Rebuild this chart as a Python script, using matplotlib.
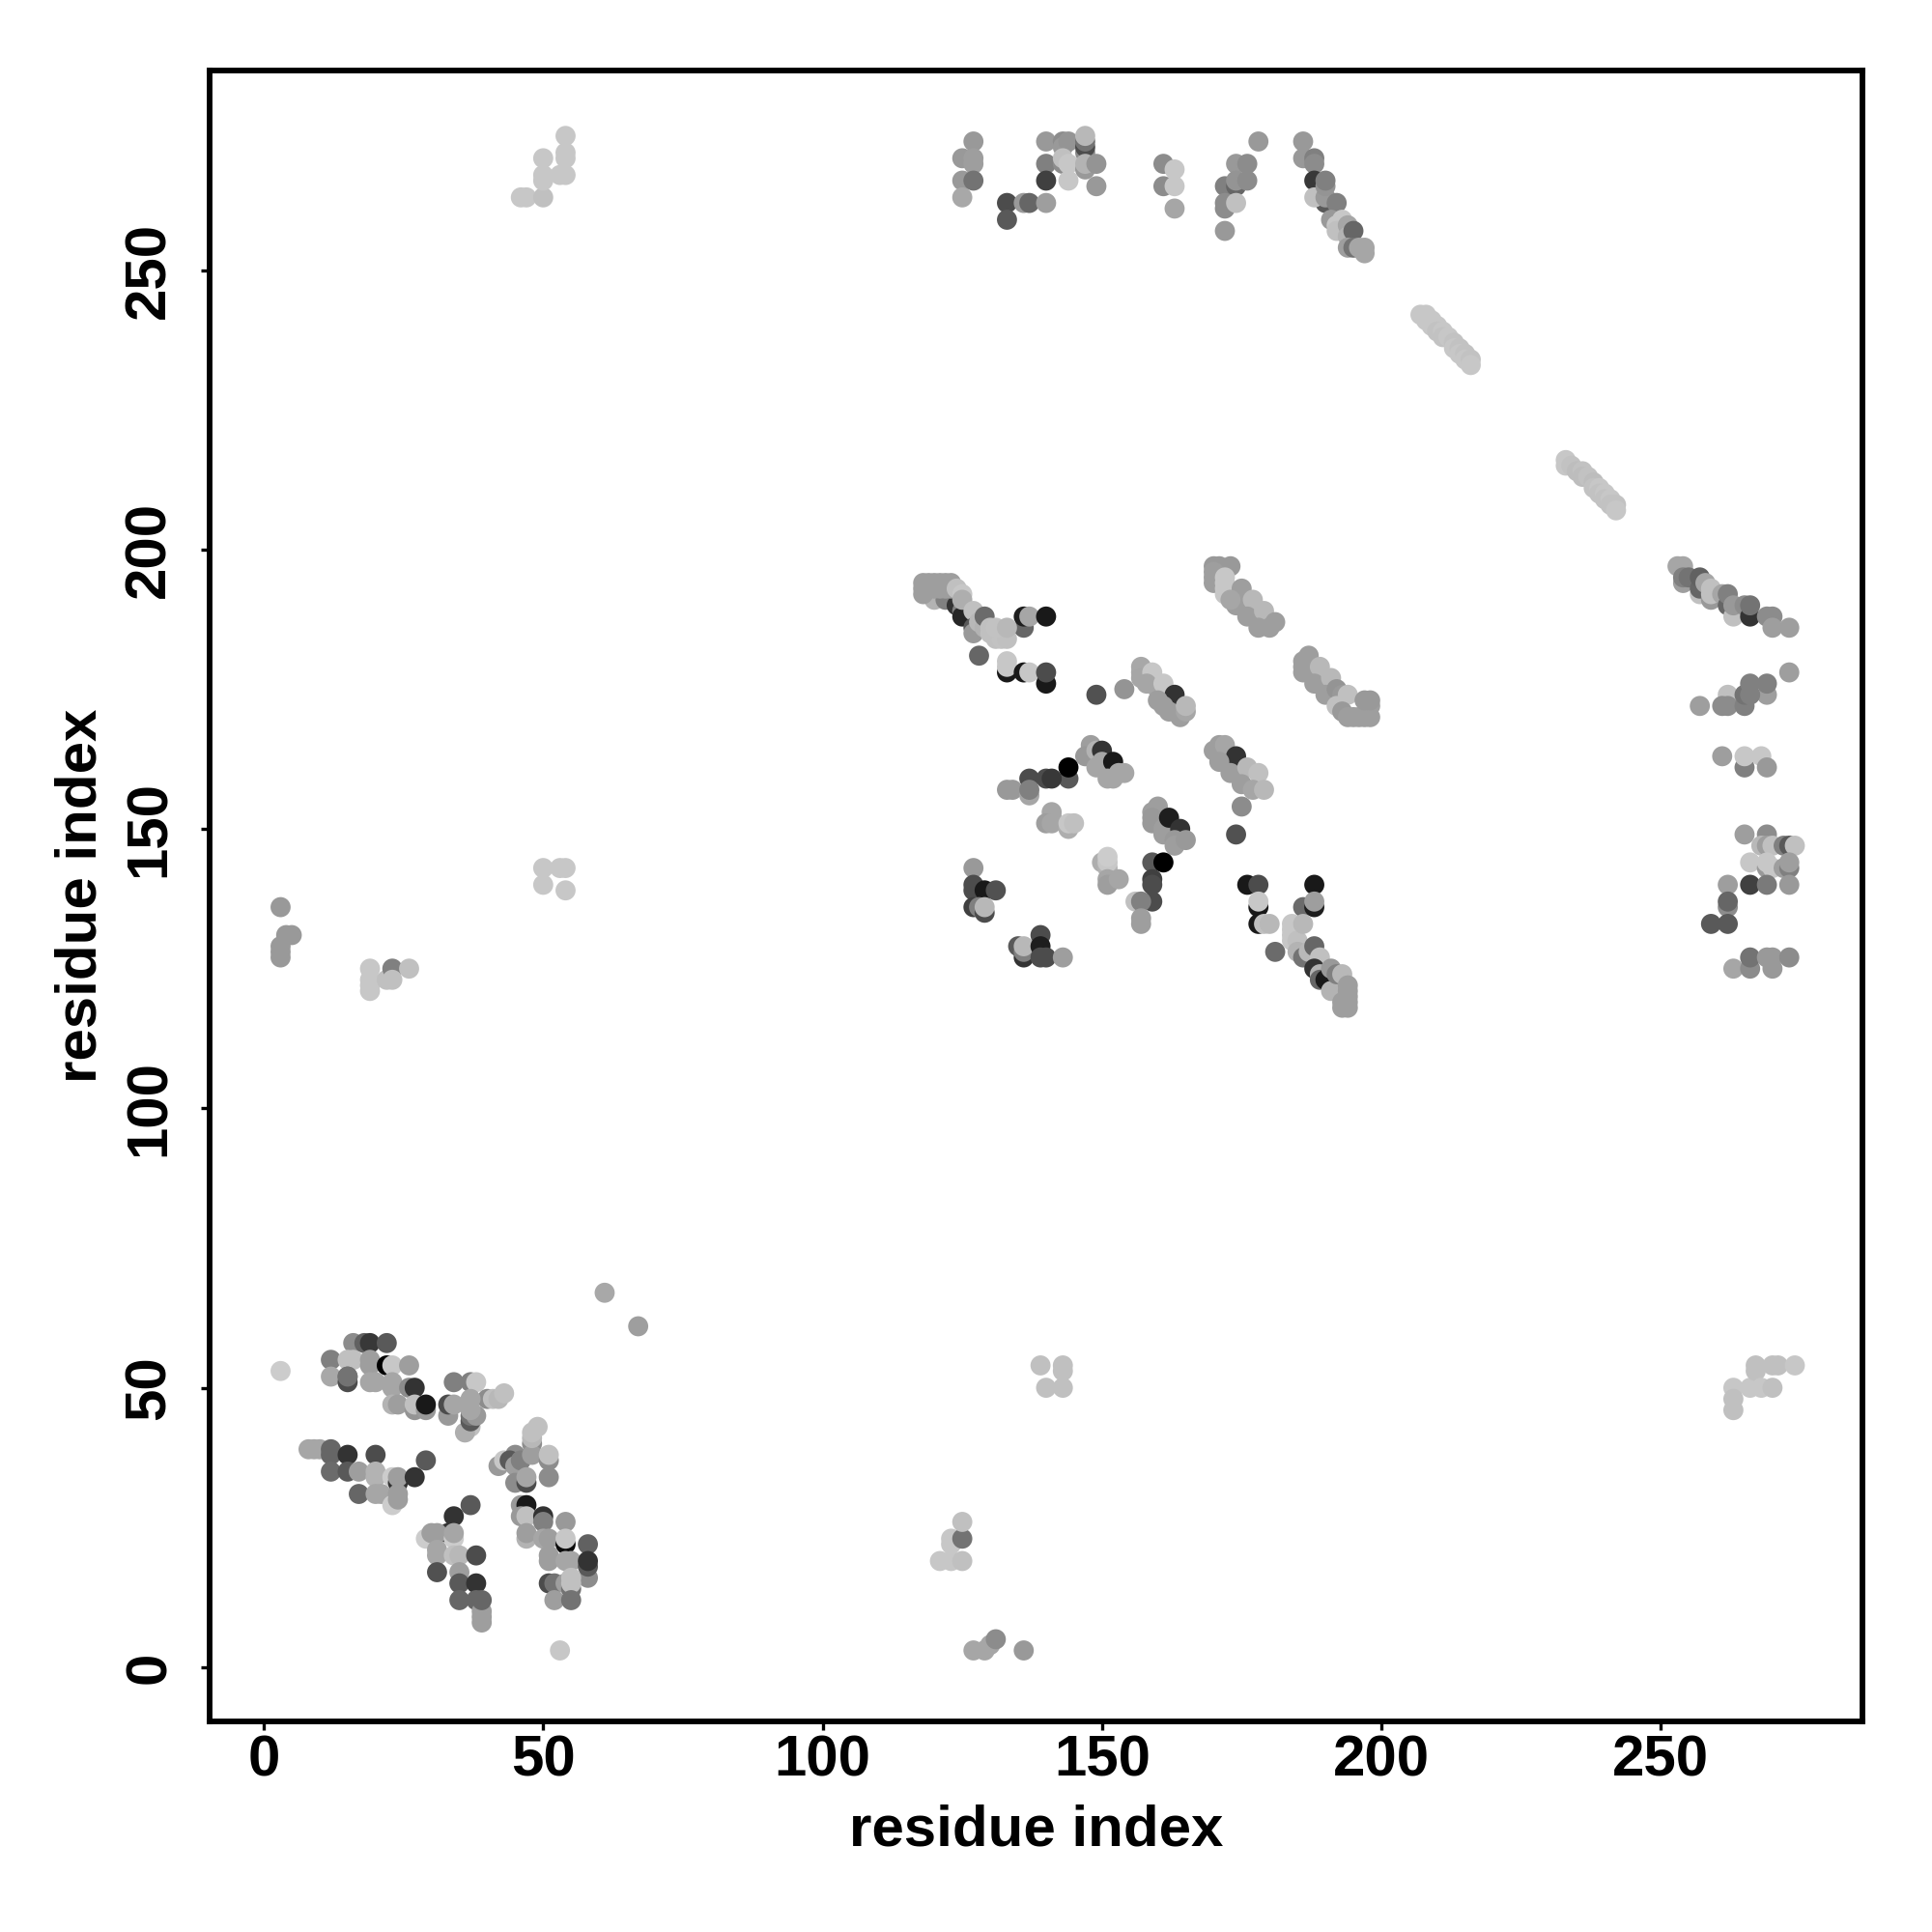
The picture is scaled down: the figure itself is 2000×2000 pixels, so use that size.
import numpy as np
import matplotlib
matplotlib.use("Agg")
import matplotlib.pyplot as plt

plt.rcParams['font.family'] = ['Liberation Sans', 'DejaVu Sans']
plt.rcParams['font.weight'] = 'bold'

# contatti (residuo i, residuo j, grigio), blocco per blocco
bottom_left = [
    (61,67,.66),(67,61,.62),(3,53,.8),(53,3,.78),
    (16,58,.55),(18,58,.38),(19,58,.22),(22,58,.35),(12,55,.5),(15,55,.75),(16,55,.75),
    (19,55,.62),(19,54,.62),(22,54,.0),(23,54,.78),(26,54,.62),(12,52,.66),(15,52,.45),
    (15,51,.3),(15,52,.45),(19,51,.65),(20,51,.65),(23,51,.65),(23,50,.65),(26,50,.55),(27,50,.2),
    (23,47,.7),(24,47,.62),(27,46,.58),(27,47,.75),(29,46,.6),(29,47,.1),
    (34,51,.5),(37,51,.5),(38,51,.78),(33,45,.6),(33,47,.3),(34,47,.65),(40,48,.55),
    (41,48,.75),(42,48,.72),(43,49,.75),(37,43,.75),(36,42,.68),(37,44,.35),(37,45,.45),
    (38,45,.6),(37,46,.65),(37,48,.65),
    (8,39,.65),(9,39,.65),(10,39,.65),(12,39,.4),(12,38,.4),(15,38,.2),(20,38,.3),(29,37,.35),
    (12,35,.42),(15,35,.35),(17,35,.62),(20,35,.7),(20,34,.7),(23,34,.8),(24,33,.2),(24,34,.62),
    (27,34,.2),(17,31,.4),(20,31,.65),(21,31,.65),(23,29,.8),(24,31,.62),(24,30,.62),
    (45,38,.55),(42,36,.6),(43,37,.78),(44,37,.35),(45,36,.62),(46,37,.5),(48,40,.55),(48,38,.62),
    (48,41,.72),(48,42,.75),(49,43,.75),(51,37,.55),(51,38,.75),(51,34,.55),(45,33,.55),
    (47,33,.3),(47,34,.65),
    (37,29,.35),(34,27,.2),(33,24,.2),(29,23,.8),(30,24,.62),(31,24,.62),(34,23,.8),(34,24,.65),
    (31,21,.65),(31,20,.65),(34,20,.75),(35,20,.72),(38,20,.3),(31,17,.32),(35,17,.62),
    (35,15,.35),(38,15,.2),(35,12,.4),(38,12,.4),(39,10,.62),(39,9,.62),(39,8,.62),(39,12,.4),
    (46,29,.6),(47,29,.1),(46,27,.6),(47,27,.75),(50,27,.2),(50,26,.5),(54,26,.6),(47,23,.7),
    (47,24,.62),(50,23,.65),(51,23,.62),(54,22,.05),(54,23,.78),(58,22,.38),(51,20,.62),
    (51,19,.62),(54,19,.65),(55,19,.65),(58,16,.55),(58,18,.35),(58,19,.2),(51,15,.3),(52,15,.45),
    (54,15,.62),(55,14,.45),(55,15,.75),(55,16,.75),(52,12,.62),(55,12,.45),
]

bottom_middle = [
    (121,19,.78),(123,19,.78),(125,19,.75),(123,22,.78),(123,23,.78),(125,23,.45),(125,26,.75),
    (127,3,.65),(129,3,.65),(130,4,.65),(131,5,.55),(136,3,.6),
    (139,54,.75),(140,50,.75),(143,54,.75),(143,53,.75),(143,50,.75),
]

bottom_right = [
    (263,50,.78),(263,48,.75),(263,46,.75),(266,50,.78),(267,54,.75),(267,53,.75),(268,50,.78),
    (270,50,.75),(270,54,.75),(271,54,.75),(274,54,.78),
]

left_middle = [
    (3,136,.6),(3,127,.6),(3,128,.6),(3,129,.6),(4,131,.6),(5,131,.6),
    (19,125,.78),(19,123,.78),(19,122,.78),(19,121,.78),(22,123,.75),(23,125,.5),(23,123,.75),(26,125,.75),
    (50,143,.78),(50,140,.78),(53,143,.78),(54,143,.78),(54,139,.78),
]

top_left = [
    (46,263,.78),(47,263,.78),(50,263,.75),(50,266,.78),(50,267,.78),(50,270,.78),(53,267,.78),
    (54,267,.78),(54,270,.78),(54,271,.78),(54,274,.78),
]

top_band = [
    (127,273,.6),(125,270,.6),(127,270,.62),(127,269,.62),(125,266,.6),(127,266,.45),(125,263,.66),
    (133,262,.3),(133,259,.35),(136,262,.6),(137,262,.4),(140,262,.62),
    (140,273,.6),(140,269,.5),(140,266,.25),(143,273,.55),(143,272,.6),(144,273,.58),(143,269,.55),
    (143,270,.75),(144,269,.78),(144,266,.78),
    (147,271,.55),(147,272,.3),(147,273,.45),(147,274,.72),(147,268,.6),(147,269,.7),(149,269,.58),(149,265,.6),
    (161,269,.55),(163,268,.78),(161,265,.55),(163,265,.78),(163,261,.65),
    (178,273,.6),(174,269,.6),(176,269,.55),(172,265,.5),(174,265,.4),(174,266,.58),(176,266,.55),
    (172,262,.55),(172,261,.55),(174,262,.75),(172,257,.6),
    (186,273,.6),(186,270,.6),(188,270,.5),(188,269,.55),(188,266,.22),(190,262,.35),(188,263,.75),
    (190,263,.6),(190,265,.58),(190,266,.5),(192,262,.5),(191,259,.6),(193,259,.78),(192,258,.78),
    (192,257,.75),(194,258,.65),(194,256,.7),(195,257,.4),(194,254,.62),(195,254,.45),(196,254,.65),
    (197,254,.65),(197,253,.65),
]

diagonal_1 = [
    (207,242,.78),(208,242,.78),(208,241,.78),(209,241,.78),(209,240,.78),(210,240,.78),(210,239,.76),
    (211,239,.78),(211,238,.76),(212,238,.78),(213,237,.76),(213,236,.78),(214,236,.76),(214,235,.78),
    (215,235,.76),(215,234,.78),(216,234,.76),(216,233,.78),
]

diagonal_2 = [
    (233,216,.78),(233,215,.78),(234,215,.76),(235,214,.74),(236,214,.76),(236,213,.74),(237,213,.76),
    (238,212,.74),(238,211,.76),(239,211,.78),(239,210,.76),(240,210,.78),(240,209,.76),(241,209,.78),
    (241,208,.76),(242,208,.76),(242,207,.78),
]

centre_a = [
    (120,191,.7),(122,191,.5),(124,190,.2),(125,190,.2),(125,189,.5),(125,188,.15),
    (118,194,.62),(119,194,.62),(120,194,.62),(121,194,.62),(122,194,.62),(123,194,.62),
    (118,193,.62),(119,193,.62),(120,193,.62),(121,193,.62),(122,193,.62),(123,193,.62),(118,192,.62),
    (124,193,.75),(125,192,.78),
    (125,191,.68),(127,189,.75),(127,186,.35),(127,185,.6),(128,187,.72),(129,186,.7),(129,188,.42),
    (128,181,.4),(136,186,.4),(136,188,.12),(137,188,.65),(140,188,.1),
    (130,185,.75),(131,184,.75),(132,184,.76),(133,184,.75),(130,186,.75),(131,186,.76),(133,186,.72),
    (133,178,.1),(133,179,.78),(133,180,.78),(136,178,.1),(137,178,.78),(140,176,.1),(140,178,.3),
    (149,174,.32),(154,175,.58),
    (157,179,.66),(157,178,.66),(157,177,.65),(159,178,.78),(158,176,.65),(160,175,.65),(161,176,.78),
    (163,174,.2),(160,173,.62),(161,172,.62),(162,171,.62),(164,170,.62),(165,171,.65),(165,172,.72),
    (148,165,.62),(147,163,.6),(149,164,.7),(149,161,.65),(150,164,.2),(150,162,.65),(152,162,.1),
    (151,159,.65),(152,159,.65),(153,160,.65),(154,160,.65),(144,159,.35),(144,161,.0),
    (137,159,.3),(140,159,.3),(141,159,.22),(133,157,.6),(134,157,.6),(137,156,.65),(137,157,.5),
    (141,153,.65),(141,152,.65),(140,151,.62),(141,151,.65),(144,150,.68),(144,151,.78),(145,151,.75),
    (160,154,.62),(159,153,.62),(159,152,.6),(159,151,.6),(161,150,.62),(161,149,.62),(162,152,.12),
    (164,150,.2),(163,148,.6),(163,147,.62),(165,148,.6),
]

centre_b = [
    (127,143,.6),(127,140,.3),(127,139,.3),(129,139,.1),(131,139,.32),(127,136,.25),(128,136,.5),
    (129,135,.3),(129,136,.72),
    (135,129,.35),(136,127,.2),(136,128,.5),(136,129,.72),(139,131,.3),(139,129,.12),(139,127,.3),
    (140,127,.3),(143,127,.62),
    (150,144,.68),(151,143,.7),(151,144,.78),(151,145,.8),(151,141,.65),(151,140,.62),(153,141,.65),
    (159,144,.35),(161,144,.0),(159,141,.25),(159,140,.3),(159,137,.3),(156,137,.75),(157,137,.5),
    (157,134,.62),(157,133,.62),(174,149,.32),(175,154,.55),
]

centre_c = [
    (170,197,.6),(171,197,.6),(173,197,.6),(170,196,.62),(170,195,.62),(170,194,.62),(172,195,.78),
    (172,194,.78),(172,193,.78),(172,192,.78),(175,193,.62),(174,190,.62),(173,191,.65),(177,191,.72),
    (176,188,.62),(179,189,.72),(178,186,.62),(180,186,.62),(181,187,.62),
    (187,181,.62),(186,180,.62),(186,179,.62),(186,178,.62),(189,179,.72),(188,176,.62),(191,177,.72),
    (190,174,.62),(192,175,.58),(193,174,.6),(194,174,.75),(192,172,.75),(193,171,.6),(194,170,.62),
    (195,170,.62),(196,170,.62),(197,170,.62),(198,170,.62),(198,172,.62),(197,173,.6),(198,173,.6),
    (170,164,.62),(171,165,.62),(172,165,.65),(174,163,.2),(171,162,.62),(173,160,.62),(176,161,.72),
    (175,158,.62),(178,160,.75),(177,157,.65),(179,157,.72),
    (176,140,.1),(178,140,.3),(178,136,.1),(178,137,.78),(178,133,.1),(179,133,.75),(180,133,.72),(181,128,.42),
    (188,140,.1),(186,136,.42),(188,136,.12),(188,137,.62),
    (184,133,.78),(184,132,.78),(184,131,.78),(184,130,.78),(185,130,.75),(185,128,.7),(186,133,.72),
    (186,127,.45),(187,128,.72),(188,129,.4),(189,127,.75),(188,125,.2),(189,124,.7),(189,123,.4),
    (190,123,.1),(191,125,.6),(191,121,.7),(192,124,.5),(193,124,.72),(193,119,.62),(193,118,.62),
    (194,122,.62),(194,121,.62),(194,120,.62),(194,119,.62),(194,118,.62),
]

right_column = [
    (253,197,.65),(254,197,.65),(254,194,.62),(254,195,.5),(255,195,.45),(257,192,.75),(257,193,.4),
    (257,195,.38),(258,194,.65),(259,191,.6),(259,192,.75),(259,193,.75),(261,192,.65),(262,190,.4),
    (262,192,.5),(263,188,.75),(263,190,.6),(265,190,.55),(266,188,.2),(266,190,.45),(269,188,.55),
    (270,188,.55),(270,186,.62),(273,186,.62),
    (273,178,.62),(269,174,.62),(269,176,.5),(262,174,.75),(257,172,.62),(261,172,.55),(262,172,.55),
    (265,172,.5),(265,174,.45),(266,174,.5),(266,176,.5),
    (261,163,.62),(265,161,.5),(265,163,.78),(268,163,.78),(269,161,.6),
    (265,149,.62),(269,149,.55),(268,147,.72),(269,147,.62),(270,147,.75),(272,147,.5),(273,147,.35),(274,147,.75),
    (266,144,.78),(269,143,.6),(269,144,.78),(270,143,.78),(272,143,.62),(273,143,.5),(273,144,.62),
    (262,140,.62),(266,140,.25),(269,140,.48),(273,140,.6),
    (262,136,.55),(262,137,.4),(259,133,.35),(262,133,.35),
    (263,125,.65),(266,125,.55),(266,127,.45),(269,127,.6),(270,125,.6),(270,127,.6),(273,127,.55),
]

ticks = [0, 50, 100, 150, 200, 250]

contacts = np.array(bottom_left + bottom_middle + bottom_right + left_middle + top_left + top_band
                    + diagonal_1 + diagonal_2 + centre_a + centre_b + centre_c + right_column)

fig = plt.figure(figsize=(10, 10), dpi=200)
ax = fig.add_axes([217 / 2000, 1 - 1782 / 2000, (1928 - 217) / 2000, (1782 - 73) / 2000])

ax.scatter(contacts[:, 0], contacts[:, 1], c=contacts[:, 2], cmap='gray', vmin=0, vmax=1,
           s=56, linewidths=0, zorder=2)

ax.set_xlim(-9.7, 286.1)
ax.set_ylim(-9.7, 285.7)
ax.set_xticks(ticks)
ax.set_yticks(ticks)
ax.tick_params(axis='x', labelsize=21.6, length=3.3, width=1.2, pad=1.7)
ax.tick_params(axis='y', labelsize=21.6, length=3.3, width=1.2, pad=9)
for lab in ax.get_yticklabels():
    lab.set_rotation(90)
    lab.set_va('center')
for side in ax.spines.values():
    side.set_linewidth(2.1)

ax.set_xlabel('residue index', fontsize=21.6, fontweight='bold', labelpad=5.9)
ax.set_ylabel('residue index', fontsize=21.6, fontweight='bold', labelpad=6)

fig.savefig('out.png', dpi=200)
